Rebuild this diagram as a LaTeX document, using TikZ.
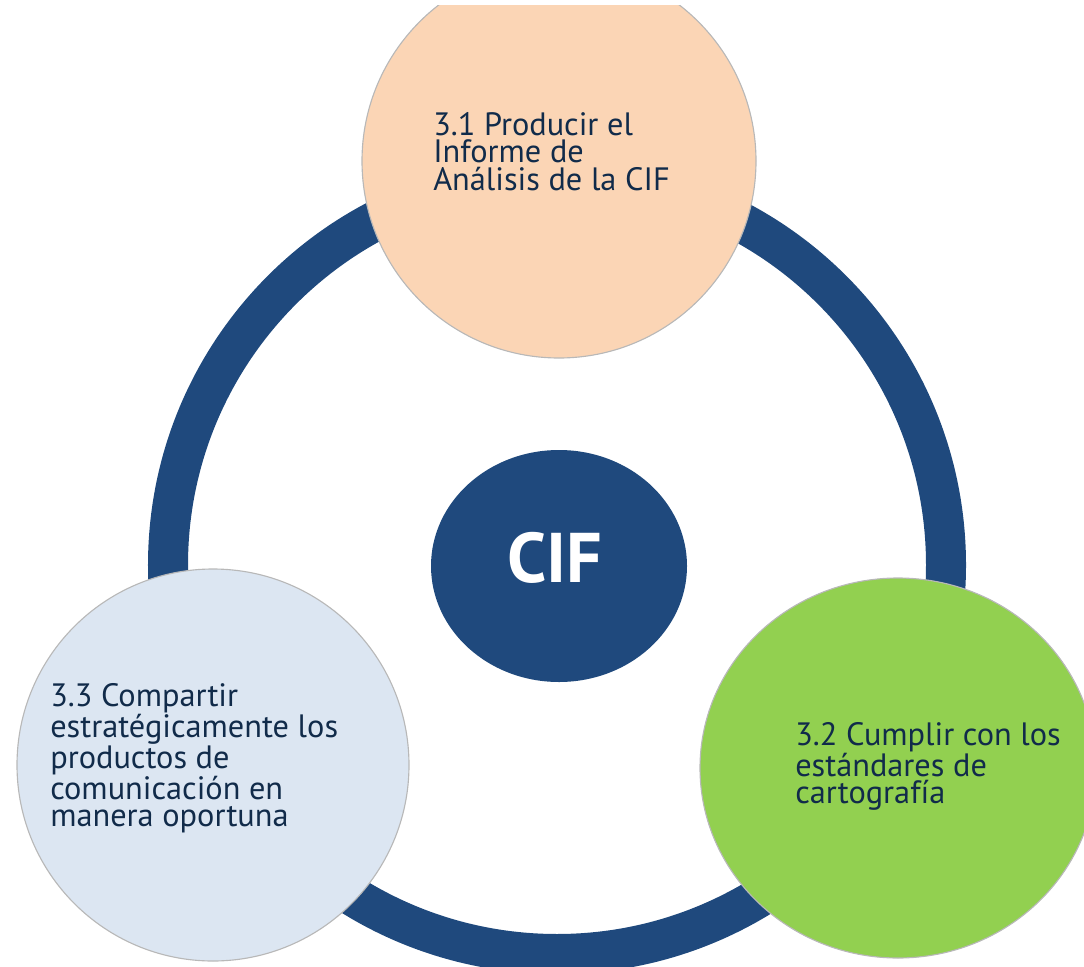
\documentclass[tikz,border=0pt]{standalone}
\usepackage{fontspec}
\setmainfont{PT Sans}
\definecolor{cifblue}{HTML}{1F497D}
\definecolor{peach}{HTML}{FBD5B5}
\definecolor{paleblue}{HTML}{DCE6F2}
\definecolor{leafgreen}{HTML}{92D050}
\definecolor{rimgray}{HTML}{B8B8B8}
\definecolor{inkblue}{HTML}{112B4A}

\begin{document}
\begin{tikzpicture}[x=0.025cm,y=-0.025cm,
    bubble/.style={draw=rimgray,line width=0.8pt},
    itemtext/.style={anchor=north west,inner sep=0pt,align=left,text=inkblue,
        font=\fontsize{23}{19.5}\selectfont}]
    \useasboundingbox (0,0) rectangle (1084,966);
    \clip (0,6) rectangle (1084,966);

    % ring
    \draw[cifblue,line width=1cm] (557,565) circle (389);

    % bubbles
    \filldraw[bubble,fill=peach] (559,161) circle (197);
    \filldraw[bubble,fill=paleblue] (213,765) circle (196);
    \filldraw[bubble,fill=leafgreen] (898,768) ellipse [x radius=198,y radius=190];

    % centre
    \fill[cifblue] (559,566) ellipse [x radius=128,y radius=116];
    \node (cif) at (555,558) [text=white,font=\fontsize{50}{50}\selectfont\bfseries] {CIF};

    \node (t31) at (433,112) [itemtext] {3.1 Producir el\\Informe de\\Análisis de la CIF};
    \node (t32) at (795,722) [itemtext] {3.2 Cumplir con los\\estándares de\\cartografía};
    \node (t33) at (50,683) [itemtext] {3.3 Compartir\\estratégicamente los\\productos de\\comunicación en\\manera oportuna};
\end{tikzpicture}
\end{document}
